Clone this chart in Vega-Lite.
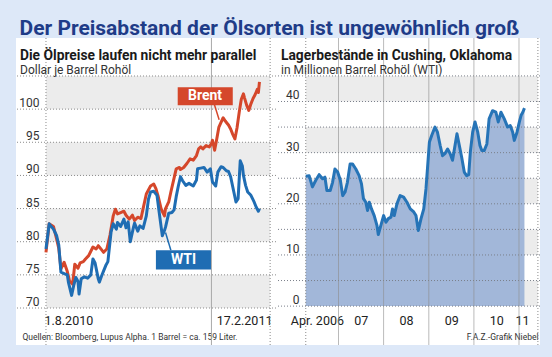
{
  "$schema": "https://vega.github.io/schema/vega-lite/v6.json",
  "background": "#dde8f8",
  "padding": {"left": 15, "right": 13, "top": 17, "bottom": 11},
  "title": {
    "text": "Der Preisabstand der Ölsorten ist ungewöhnlich groß",
    "anchor": "start", "frame": "bounds", "dx": 4, "offset": -1,
    "fontSize": 21, "fontWeight": "bold", "color": "#1f3c88",
    "font": "Roboto"
  },
  "spacing": 0,
  "bounds": "flush",
  "hconcat": [
    {
      "width": 260,
      "height": 307,
      "title": {
        "text": "Die Ölpreise laufen nicht mehr parallel",
        "subtitle": "Dollar je Barrel Rohöl",
        "anchor": "start", "frame": "group", "offset": -38, "dx": 4,
        "fontSize": 13.8, "fontWeight": "bold", "color": "#1a1a1a",
        "subtitleFontSize": 12, "subtitleColor": "#333333", "subtitlePadding": 2,
        "font": "Roboto", "subtitleFont": "Roboto"
      },
      "layer": [
        {
          "data": {"values": [{"lo": 70, "hi": 75}, {"lo": 80, "hi": 85}, {"lo": 90, "hi": 95}, {"lo": 100, "hi": 105}]},
          "mark": {"type": "rect", "color": "#ececec"},
          "encoding": {
            "x": {"datum": {"year": 2010, "month": 8, "date": 1}, "type": "temporal"},
            "x2": {"datum": {"year": 2011, "month": 2, "date": 27}},
            "y": {"field": "lo", "type": "quantitative"},
            "y2": {"field": "hi"}
          }
        },
        {
          "data": {"values": [{"g": 70}, {"g": 75}, {"g": 80}, {"g": 85}, {"g": 90}, {"g": 95}, {"g": 100}, {"g": 105}]},
          "mark": {"type": "rule", "color": "#8a8a8a", "strokeWidth": 1, "strokeDash": [1, 2]},
          "encoding": {"y": {"field": "g", "type": "quantitative"}}
        },
        {
          "data": {"values": [{"d": "2010-08-01"}, {"d": "2011-02-27"}]},
          "mark": {"type": "rule", "color": "#8a8a8a", "strokeWidth": 1, "strokeDash": [1, 2]},
          "encoding": {"x": {"field": "d", "type": "temporal"}}
        },
        {
          "data": {"values": [{"d": "2011-01-03"}]},
          "mark": {"type": "rule", "color": "#a8a8a8", "strokeWidth": 1},
          "encoding": {"x": {"field": "d", "type": "temporal"}}
        },
        {
          "data": {"values": [
            {"date": "2010-08-01", "series": "Brent", "price": 78.4},
            {"date": "2010-08-04", "series": "Brent", "price": 82.7},
            {"date": "2010-08-08", "series": "Brent", "price": 82.3},
            {"date": "2010-08-11", "series": "Brent", "price": 80.4},
            {"date": "2010-08-13", "series": "Brent", "price": 79.0},
            {"date": "2010-08-15", "series": "Brent", "price": 75.9},
            {"date": "2010-08-18", "series": "Brent", "price": 76.9},
            {"date": "2010-08-21", "series": "Brent", "price": 75.5},
            {"date": "2010-08-23", "series": "Brent", "price": 74.1},
            {"date": "2010-08-26", "series": "Brent", "price": 73.6},
            {"date": "2010-08-28", "series": "Brent", "price": 76.6},
            {"date": "2010-08-31", "series": "Brent", "price": 76.0},
            {"date": "2010-09-02", "series": "Brent", "price": 76.8},
            {"date": "2010-09-05", "series": "Brent", "price": 77.0},
            {"date": "2010-09-07", "series": "Brent", "price": 77.4},
            {"date": "2010-09-10", "series": "Brent", "price": 77.9},
            {"date": "2010-09-14", "series": "Brent", "price": 79.2},
            {"date": "2010-09-17", "series": "Brent", "price": 78.9},
            {"date": "2010-09-19", "series": "Brent", "price": 79.4},
            {"date": "2010-09-22", "series": "Brent", "price": 78.8},
            {"date": "2010-09-24", "series": "Brent", "price": 78.4},
            {"date": "2010-09-27", "series": "Brent", "price": 78.9},
            {"date": "2010-09-30", "series": "Brent", "price": 81.0},
            {"date": "2010-10-03", "series": "Brent", "price": 83.9},
            {"date": "2010-10-05", "series": "Brent", "price": 84.9},
            {"date": "2010-10-07", "series": "Brent", "price": 84.2},
            {"date": "2010-10-10", "series": "Brent", "price": 84.4},
            {"date": "2010-10-13", "series": "Brent", "price": 84.6},
            {"date": "2010-10-15", "series": "Brent", "price": 84.0},
            {"date": "2010-10-18", "series": "Brent", "price": 83.4},
            {"date": "2010-10-21", "series": "Brent", "price": 84.0},
            {"date": "2010-10-23", "series": "Brent", "price": 83.2},
            {"date": "2010-10-26", "series": "Brent", "price": 83.7},
            {"date": "2010-10-29", "series": "Brent", "price": 83.5},
            {"date": "2010-10-31", "series": "Brent", "price": 85.0},
            {"date": "2010-11-03", "series": "Brent", "price": 87.2},
            {"date": "2010-11-05", "series": "Brent", "price": 87.8},
            {"date": "2010-11-07", "series": "Brent", "price": 88.4},
            {"date": "2010-11-10", "series": "Brent", "price": 88.7},
            {"date": "2010-11-12", "series": "Brent", "price": 88.0},
            {"date": "2010-11-14", "series": "Brent", "price": 86.9},
            {"date": "2010-11-17", "series": "Brent", "price": 84.9},
            {"date": "2010-11-20", "series": "Brent", "price": 83.9},
            {"date": "2010-11-21", "series": "Brent", "price": 85.0},
            {"date": "2010-11-24", "series": "Brent", "price": 86.0},
            {"date": "2010-11-26", "series": "Brent", "price": 87.5},
            {"date": "2010-11-29", "series": "Brent", "price": 89.6},
            {"date": "2010-12-01", "series": "Brent", "price": 91.0},
            {"date": "2010-12-04", "series": "Brent", "price": 91.2},
            {"date": "2010-12-05", "series": "Brent", "price": 90.9},
            {"date": "2010-12-08", "series": "Brent", "price": 91.2},
            {"date": "2010-12-11", "series": "Brent", "price": 91.8},
            {"date": "2010-12-14", "series": "Brent", "price": 92.5},
            {"date": "2010-12-17", "series": "Brent", "price": 92.3},
            {"date": "2010-12-20", "series": "Brent", "price": 93.0},
            {"date": "2010-12-22", "series": "Brent", "price": 94.0},
            {"date": "2010-12-24", "series": "Brent", "price": 94.3},
            {"date": "2010-12-26", "series": "Brent", "price": 94.0},
            {"date": "2010-12-29", "series": "Brent", "price": 94.5},
            {"date": "2011-01-01", "series": "Brent", "price": 94.3},
            {"date": "2011-01-03", "series": "Brent", "price": 94.8},
            {"date": "2011-01-04", "series": "Brent", "price": 95.3},
            {"date": "2011-01-06", "series": "Brent", "price": 93.8},
            {"date": "2011-01-08", "series": "Brent", "price": 95.5},
            {"date": "2011-01-10", "series": "Brent", "price": 97.3},
            {"date": "2011-01-12", "series": "Brent", "price": 98.0},
            {"date": "2011-01-14", "series": "Brent", "price": 98.7},
            {"date": "2011-01-16", "series": "Brent", "price": 98.2},
            {"date": "2011-01-18", "series": "Brent", "price": 97.8},
            {"date": "2011-01-19", "series": "Brent", "price": 97.6},
            {"date": "2011-01-21", "series": "Brent", "price": 97.0},
            {"date": "2011-01-23", "series": "Brent", "price": 96.2},
            {"date": "2011-01-25", "series": "Brent", "price": 95.5},
            {"date": "2011-01-27", "series": "Brent", "price": 97.2},
            {"date": "2011-01-29", "series": "Brent", "price": 99.5},
            {"date": "2011-01-31", "series": "Brent", "price": 101.5},
            {"date": "2011-02-02", "series": "Brent", "price": 102.3},
            {"date": "2011-02-03", "series": "Brent", "price": 101.7},
            {"date": "2011-02-05", "series": "Brent", "price": 100.6},
            {"date": "2011-02-07", "series": "Brent", "price": 99.8},
            {"date": "2011-02-09", "series": "Brent", "price": 100.8},
            {"date": "2011-02-11", "series": "Brent", "price": 101.6},
            {"date": "2011-02-13", "series": "Brent", "price": 102.2},
            {"date": "2011-02-15", "series": "Brent", "price": 103.0},
            {"date": "2011-02-16", "series": "Brent", "price": 102.5},
            {"date": "2011-02-17", "series": "Brent", "price": 104.1},
            {"date": "2010-08-01", "series": "WTI", "price": 78.9},
            {"date": "2010-08-04", "series": "WTI", "price": 82.7},
            {"date": "2010-08-08", "series": "WTI", "price": 81.9},
            {"date": "2010-08-11", "series": "WTI", "price": 80.9},
            {"date": "2010-08-13", "series": "WTI", "price": 79.5},
            {"date": "2010-08-15", "series": "WTI", "price": 75.4},
            {"date": "2010-08-18", "series": "WTI", "price": 75.2},
            {"date": "2010-08-21", "series": "WTI", "price": 75.0},
            {"date": "2010-08-22", "series": "WTI", "price": 73.9},
            {"date": "2010-08-25", "series": "WTI", "price": 71.9},
            {"date": "2010-08-27", "series": "WTI", "price": 73.4},
            {"date": "2010-08-29", "series": "WTI", "price": 74.6},
            {"date": "2010-08-31", "series": "WTI", "price": 74.0},
            {"date": "2010-09-01", "series": "WTI", "price": 72.1},
            {"date": "2010-09-03", "series": "WTI", "price": 74.4},
            {"date": "2010-09-06", "series": "WTI", "price": 74.7},
            {"date": "2010-09-09", "series": "WTI", "price": 74.5},
            {"date": "2010-09-12", "series": "WTI", "price": 75.0},
            {"date": "2010-09-14", "series": "WTI", "price": 77.4},
            {"date": "2010-09-16", "series": "WTI", "price": 76.8},
            {"date": "2010-09-19", "series": "WTI", "price": 74.4},
            {"date": "2010-09-20", "series": "WTI", "price": 73.9},
            {"date": "2010-09-22", "series": "WTI", "price": 74.8},
            {"date": "2010-09-24", "series": "WTI", "price": 75.6},
            {"date": "2010-09-26", "series": "WTI", "price": 76.4},
            {"date": "2010-09-28", "series": "WTI", "price": 77.0},
            {"date": "2010-10-01", "series": "WTI", "price": 81.5},
            {"date": "2010-10-03", "series": "WTI", "price": 82.7},
            {"date": "2010-10-06", "series": "WTI", "price": 81.9},
            {"date": "2010-10-07", "series": "WTI", "price": 82.9},
            {"date": "2010-10-10", "series": "WTI", "price": 82.3},
            {"date": "2010-10-13", "series": "WTI", "price": 83.4},
            {"date": "2010-10-15", "series": "WTI", "price": 82.1},
            {"date": "2010-10-17", "series": "WTI", "price": 83.0},
            {"date": "2010-10-19", "series": "WTI", "price": 80.0},
            {"date": "2010-10-22", "series": "WTI", "price": 82.2},
            {"date": "2010-10-23", "series": "WTI", "price": 82.8},
            {"date": "2010-10-26", "series": "WTI", "price": 81.6},
            {"date": "2010-10-28", "series": "WTI", "price": 82.4},
            {"date": "2010-10-31", "series": "WTI", "price": 82.0},
            {"date": "2010-11-03", "series": "WTI", "price": 83.9},
            {"date": "2010-11-05", "series": "WTI", "price": 86.4},
            {"date": "2010-11-07", "series": "WTI", "price": 87.5},
            {"date": "2010-11-10", "series": "WTI", "price": 87.6},
            {"date": "2010-11-13", "series": "WTI", "price": 87.0},
            {"date": "2010-11-15", "series": "WTI", "price": 84.5},
            {"date": "2010-11-18", "series": "WTI", "price": 80.9},
            {"date": "2010-11-20", "series": "WTI", "price": 81.7},
            {"date": "2010-11-21", "series": "WTI", "price": 82.2},
            {"date": "2010-11-24", "series": "WTI", "price": 84.3},
            {"date": "2010-11-27", "series": "WTI", "price": 84.4},
            {"date": "2010-11-29", "series": "WTI", "price": 84.8},
            {"date": "2010-12-01", "series": "WTI", "price": 86.8},
            {"date": "2010-12-03", "series": "WTI", "price": 88.4},
            {"date": "2010-12-05", "series": "WTI", "price": 89.8},
            {"date": "2010-12-07", "series": "WTI", "price": 89.2},
            {"date": "2010-12-10", "series": "WTI", "price": 88.5},
            {"date": "2010-12-13", "series": "WTI", "price": 88.8},
            {"date": "2010-12-17", "series": "WTI", "price": 88.4},
            {"date": "2010-12-20", "series": "WTI", "price": 89.3},
            {"date": "2010-12-21", "series": "WTI", "price": 91.0},
            {"date": "2010-12-24", "series": "WTI", "price": 91.1},
            {"date": "2010-12-27", "series": "WTI", "price": 91.2},
            {"date": "2010-12-30", "series": "WTI", "price": 90.5},
            {"date": "2011-01-02", "series": "WTI", "price": 91.0},
            {"date": "2011-01-04", "series": "WTI", "price": 89.0},
            {"date": "2011-01-05", "series": "WTI", "price": 88.8},
            {"date": "2011-01-07", "series": "WTI", "price": 88.4},
            {"date": "2011-01-09", "series": "WTI", "price": 90.5},
            {"date": "2011-01-12", "series": "WTI", "price": 91.3},
            {"date": "2011-01-14", "series": "WTI", "price": 91.2},
            {"date": "2011-01-17", "series": "WTI", "price": 90.7},
            {"date": "2011-01-19", "series": "WTI", "price": 90.6},
            {"date": "2011-01-21", "series": "WTI", "price": 89.8},
            {"date": "2011-01-24", "series": "WTI", "price": 87.5},
            {"date": "2011-01-26", "series": "WTI", "price": 86.0},
            {"date": "2011-01-28", "series": "WTI", "price": 86.5},
            {"date": "2011-01-30", "series": "WTI", "price": 92.2},
            {"date": "2011-02-01", "series": "WTI", "price": 91.4},
            {"date": "2011-02-02", "series": "WTI", "price": 90.0},
            {"date": "2011-02-04", "series": "WTI", "price": 88.5},
            {"date": "2011-02-06", "series": "WTI", "price": 87.5},
            {"date": "2011-02-09", "series": "WTI", "price": 87.0},
            {"date": "2011-02-12", "series": "WTI", "price": 86.0},
            {"date": "2011-02-14", "series": "WTI", "price": 85.2},
            {"date": "2011-02-16", "series": "WTI", "price": 84.6},
            {"date": "2011-02-17", "series": "WTI", "price": 85.0}
          ]},
          "mark": {"type": "line", "strokeWidth": 3, "strokeJoin": "round"},
          "encoding": {
            "x": {
              "field": "date", "type": "temporal",
              "scale": {"domain": [{"year": 2010, "month": 7, "date": 3, "hours": 22}, {"year": 2011, "month": 3, "date": 4, "hours": 12}]},
              "axis": {
                "values": [{"year": 2010, "month": 8, "date": 1}, {"year": 2011, "month": 2, "date": 17}],
                "labelExpr": "timeFormat(datum.value, '%-d.%-m.%Y')",
                "labelAlign": {"condition": {"test": "month(datum.value) == 7", "value": "left"}, "value": "right"},
                "labelOffset": {"condition": {"test": "month(datum.value) == 7", "value": -2}, "value": 12.5},
                "labelPadding": -20.5, "labelBaseline": "alphabetic",
                "ticks": false, "domain": false, "grid": false,
                "labelFont": "Roboto", "labelFontSize": 12.5, "labelColor": "#222222", "labelFlush": false, "labelOverlap": false,
                "title": "Quellen: Bloomberg, Lupus Alpha. 1 Barrel = ca. 159 Liter.",
                "titleFont": "Roboto", "titleFontSize": 8.5, "titleFontWeight": "normal", "titleColor": "#333333",
                "titleX": 6, "titleY": -6, "titleAlign": "left", "titleBaseline": "alphabetic"
              }
            },
            "y": {
              "field": "price", "type": "quantitative",
              "scale": {"domain": [64.42, 110.73], "nice": false, "zero": false},
              "axis": {
                "values": [70, 75, 80, 85, 90, 95, 100, 105],
                "labelExpr": "datum.value >= 105 ? '' : datum.label",
                "grid": false, "domain": false, "ticks": false,
                "labelPadding": -23, "labelAlign": "right", "labelBaseline": "alphabetic", "labelOffset": -2.5,
                "labelFont": "Roboto", "labelFontSize": 12, "labelColor": "#333333", "labelFlush": false, "labelOverlap": false,
                "title": null
              }
            },
            "color": {"field": "series", "type": "nominal", "scale": {"domain": ["Brent", "WTI"], "range": ["#d5472b", "#1f6db3"]}, "legend": null}
          }
        },
        {
          "data": {"values": [{}]},
          "mark": {"type": "rule", "color": "#d5472b", "strokeWidth": 1.5},
          "encoding": {
            "x": {"datum": {"year": 2011, "month": 1, "date": 5, "hours": 18}, "type": "temporal"},
            "x2": {"datum": {"year": 2011, "month": 1, "date": 10, "hours": 6}},
            "y": {"datum": 100.7, "type": "quantitative"},
            "y2": {"datum": 98.4}
          }
        },
        {
          "data": {"values": [{}]},
          "mark": {"type": "rect", "color": "#d5472b"},
          "encoding": {
            "x": {"datum": {"year": 2010, "month": 12, "date": 2, "hours": 10}, "type": "temporal"},
            "x2": {"datum": {"year": 2011, "month": 1, "date": 23}},
            "y": {"datum": 100.6, "type": "quantitative"},
            "y2": {"datum": 103.3}
          }
        },
        {
          "data": {"values": [{"label": "Brent"}]},
          "mark": {"type": "text", "color": "white", "fontWeight": "bold", "fontSize": 14, "align": "center", "baseline": "middle", "font": "Roboto"},
          "encoding": {
            "x": {"datum": {"year": 2010, "month": 12, "date": 28}, "type": "temporal"},
            "y": {"datum": 101.95, "type": "quantitative"},
            "text": {"field": "label"}
          }
        },
        {
          "data": {"values": [{}]},
          "mark": {"type": "rule", "color": "#1f6db3", "strokeWidth": 1.5},
          "encoding": {
            "x": {"datum": {"year": 2010, "month": 11, "date": 26}, "type": "temporal"},
            "x2": {"datum": {"year": 2010, "month": 11, "date": 21}},
            "y": {"datum": 78.7, "type": "quantitative"},
            "y2": {"datum": 81.4}
          }
        },
        {
          "data": {"values": [{}]},
          "mark": {"type": "rect", "color": "#1f6db3"},
          "encoding": {
            "x": {"datum": {"year": 2010, "month": 11, "date": 12}, "type": "temporal"},
            "x2": {"datum": {"year": 2011, "month": 1, "date": 2, "hours": 14}},
            "y": {"datum": 75.8, "type": "quantitative"},
            "y2": {"datum": 78.7}
          }
        },
        {
          "data": {"values": [{"label": "WTI"}]},
          "mark": {"type": "text", "color": "white", "fontWeight": "bold", "fontSize": 14, "align": "center", "baseline": "middle", "font": "Roboto"},
          "encoding": {
            "x": {"datum": {"year": 2010, "month": 12, "date": 7, "hours": 20}, "type": "temporal"},
            "y": {"datum": 77.2, "type": "quantitative"},
            "text": {"field": "label"}
          }
        }
      ]
    },
    {
      "width": 264,
      "height": 307,
      "title": {
        "text": "Lagerbestände in Cushing, Oklahoma",
        "subtitle": "in Millionen Barrel Rohöl (WTI)",
        "anchor": "start", "frame": "group", "offset": -38, "dx": 5,
        "fontSize": 13.8, "fontWeight": "bold", "color": "#1a1a1a",
        "subtitleFontSize": 12, "subtitleColor": "#333333", "subtitlePadding": 2,
        "font": "Roboto", "subtitleFont": "Roboto"
      },
      "layer": [
        {
          "data": {"values": [{"lo": 0, "hi": 5}, {"lo": 10, "hi": 15}, {"lo": 20, "hi": 25}, {"lo": 30, "hi": 35}, {"lo": 40, "hi": 45}]},
          "mark": {"type": "rect", "color": "#ececec"},
          "encoding": {
            "x": {"datum": {"year": 2006, "month": 4, "date": 11}, "type": "temporal"},
            "x2": {"datum": {"year": 2011, "month": 6, "date": 3}},
            "y": {"field": "lo", "type": "quantitative"},
            "y2": {"field": "hi"}
          }
        },
        {
          "data": {"name": "stock"},
          "mark": {"type": "area", "color": "#a2b7d9", "opacity": 1},
          "encoding": {
            "x": {
              "field": "date", "type": "temporal",
              "scale": {"domain": [{"year": 2005, "month": 8, "date": 13}, {"year": 2011, "month": 6, "date": 20}]},
              "axis": {
                "values": [{"year": 2006, "month": 7, "date": 10}, {"year": 2007, "month": 7, "date": 1}, {"year": 2008, "month": 7, "date": 1}, {"year": 2009, "month": 7, "date": 1}, {"year": 2010, "month": 7, "date": 1}, {"year": 2011, "month": 1, "date": 25}],
                "labelExpr": "year(datum.value) == 2006 ? 'Apr. 2006' : timeFormat(datum.value, '%y')",
                "labelAlign": "center", "labelPadding": -20.5, "labelBaseline": "alphabetic",
                "ticks": false, "domain": false, "grid": false,
                "labelFont": "Roboto", "labelFontSize": 12.5, "labelColor": "#222222", "labelFlush": false, "labelOverlap": false,
                "title": "F.A.Z.-Grafik Niebel",
                "titleFont": "Roboto", "titleFontSize": 8.5, "titleFontWeight": "normal", "titleColor": "#333333",
                "titleX": 262, "titleY": -6, "titleAlign": "right", "titleBaseline": "alphabetic"
              }
            },
            "y": {
              "field": "stock", "type": "quantitative",
              "scale": {"domain": [-7.6, 52.41], "nice": false, "zero": false},
              "axis": {
                "values": [0, 5, 10, 15, 20, 25, 30, 35, 40, 45],
                "labelExpr": "datum.value >= 45 ? '' : datum.label",
                "grid": false, "domain": false, "ticks": false,
                "labelPadding": -23, "labelAlign": "right", "labelBaseline": "alphabetic", "labelOffset": -2.5,
                "labelFont": "Roboto", "labelFontSize": 12, "labelColor": "#333333", "labelFlush": false, "labelOverlap": false,
                "title": null
              }
            },
            "y2": {"datum": 0}
          }
        },
        {
          "data": {"values": [{"g": 0}, {"g": 5}, {"g": 10}, {"g": 15}, {"g": 20}, {"g": 25}, {"g": 30}, {"g": 35}, {"g": 40}, {"g": 45}]},
          "mark": {"type": "rule", "color": "#7a7f8a", "strokeWidth": 1, "strokeDash": [1, 2]},
          "encoding": {"y": {"field": "g", "type": "quantitative"}}
        },
        {
          "data": {"values": [{"d": "2006-04-11"}, {"d": "2011-06-03"}]},
          "mark": {"type": "rule", "color": "#8a8a8a", "strokeWidth": 1, "strokeDash": [1, 2]},
          "encoding": {"x": {"field": "d", "type": "temporal"}}
        },
        {
          "data": {"values": [{"d": "2007-01-01"}, {"d": "2008-01-01"}, {"d": "2009-01-01"}, {"d": "2010-01-01"}, {"d": "2011-01-01"}]},
          "mark": {"type": "rule", "color": "#8c8c8c", "strokeWidth": 1, "opacity": 0.6},
          "encoding": {"x": {"field": "d", "type": "temporal"}}
        },
        {
          "data": {"name": "stock"},
          "mark": {"type": "line", "color": "#2674b7", "strokeWidth": 3, "strokeJoin": "round"},
          "encoding": {
            "x": {"field": "date", "type": "temporal"},
            "y": {"field": "stock", "type": "quantitative"}
          }
        }
      ]
    }
  ],
  "datasets": {
    "stock": [
      {"date": "2006-04-11", "stock": 25.4},
      {"date": "2006-05-08", "stock": 25.5},
      {"date": "2006-06-04", "stock": 23.3},
      {"date": "2006-07-01", "stock": 24.6},
      {"date": "2006-07-28", "stock": 25.7},
      {"date": "2006-08-25", "stock": 24.9},
      {"date": "2006-09-13", "stock": 25.2},
      {"date": "2006-09-29", "stock": 22.6},
      {"date": "2006-10-26", "stock": 22.6},
      {"date": "2006-11-14", "stock": 24.2},
      {"date": "2006-12-03", "stock": 26.8},
      {"date": "2006-12-25", "stock": 26.2},
      {"date": "2007-01-16", "stock": 24.6},
      {"date": "2007-02-04", "stock": 21.6},
      {"date": "2007-02-23", "stock": 22.3},
      {"date": "2007-03-14", "stock": 24.2},
      {"date": "2007-04-05", "stock": 27.8},
      {"date": "2007-04-24", "stock": 27.8},
      {"date": "2007-05-21", "stock": 26.8},
      {"date": "2007-06-17", "stock": 25.5},
      {"date": "2007-07-06", "stock": 23.9},
      {"date": "2007-07-22", "stock": 21.0},
      {"date": "2007-08-10", "stock": 20.3},
      {"date": "2007-08-24", "stock": 18.7},
      {"date": "2007-09-07", "stock": 20.3},
      {"date": "2007-09-25", "stock": 19.0},
      {"date": "2007-10-17", "stock": 17.7},
      {"date": "2007-11-08", "stock": 15.8},
      {"date": "2007-11-19", "stock": 14.0},
      {"date": "2007-12-10", "stock": 15.8},
      {"date": "2008-01-01", "stock": 17.7},
      {"date": "2008-01-20", "stock": 16.4},
      {"date": "2008-02-08", "stock": 17.1},
      {"date": "2008-03-01", "stock": 17.4},
      {"date": "2008-03-13", "stock": 19.0},
      {"date": "2008-03-27", "stock": 17.7},
      {"date": "2008-04-18", "stock": 20.0},
      {"date": "2008-05-14", "stock": 21.6},
      {"date": "2008-06-11", "stock": 21.3},
      {"date": "2008-07-08", "stock": 20.3},
      {"date": "2008-08-04", "stock": 19.0},
      {"date": "2008-09-01", "stock": 18.4},
      {"date": "2008-09-19", "stock": 17.7},
      {"date": "2008-10-08", "stock": 14.8},
      {"date": "2008-10-30", "stock": 17.1},
      {"date": "2008-11-21", "stock": 19.0},
      {"date": "2008-12-09", "stock": 22.9},
      {"date": "2008-12-23", "stock": 27.5},
      {"date": "2009-01-06", "stock": 32.1},
      {"date": "2009-01-25", "stock": 33.4},
      {"date": "2009-02-20", "stock": 35.0},
      {"date": "2009-03-12", "stock": 34.0},
      {"date": "2009-04-03", "stock": 31.4},
      {"date": "2009-04-22", "stock": 29.4},
      {"date": "2009-05-11", "stock": 29.8},
      {"date": "2009-06-02", "stock": 30.7},
      {"date": "2009-06-23", "stock": 29.8},
      {"date": "2009-07-12", "stock": 28.5},
      {"date": "2009-08-01", "stock": 31.4},
      {"date": "2009-08-17", "stock": 33.7},
      {"date": "2009-09-05", "stock": 31.4},
      {"date": "2009-09-24", "stock": 29.1},
      {"date": "2009-10-15", "stock": 26.2},
      {"date": "2009-11-03", "stock": 25.5},
      {"date": "2009-11-20", "stock": 25.7},
      {"date": "2009-12-03", "stock": 30.1},
      {"date": "2009-12-22", "stock": 34.0},
      {"date": "2010-01-10", "stock": 36.0},
      {"date": "2010-02-01", "stock": 34.0},
      {"date": "2010-02-19", "stock": 31.4},
      {"date": "2010-03-06", "stock": 30.4},
      {"date": "2010-03-25", "stock": 30.4},
      {"date": "2010-04-16", "stock": 31.7},
      {"date": "2010-05-04", "stock": 36.6},
      {"date": "2010-06-01", "stock": 38.2},
      {"date": "2010-06-28", "stock": 37.9},
      {"date": "2010-07-17", "stock": 36.0},
      {"date": "2010-08-08", "stock": 37.9},
      {"date": "2010-09-04", "stock": 36.6},
      {"date": "2010-10-01", "stock": 35.0},
      {"date": "2010-10-22", "stock": 35.3},
      {"date": "2010-11-11", "stock": 34.0},
      {"date": "2010-11-24", "stock": 32.4},
      {"date": "2010-12-16", "stock": 34.0},
      {"date": "2011-01-04", "stock": 36.0},
      {"date": "2011-01-18", "stock": 37.3},
      {"date": "2011-02-01", "stock": 37.9},
      {"date": "2011-02-14", "stock": 38.7}
    ]
  },
  "config": {
    "view": {"fill": "white", "stroke": null},
    "font": "Roboto"
  }
}
